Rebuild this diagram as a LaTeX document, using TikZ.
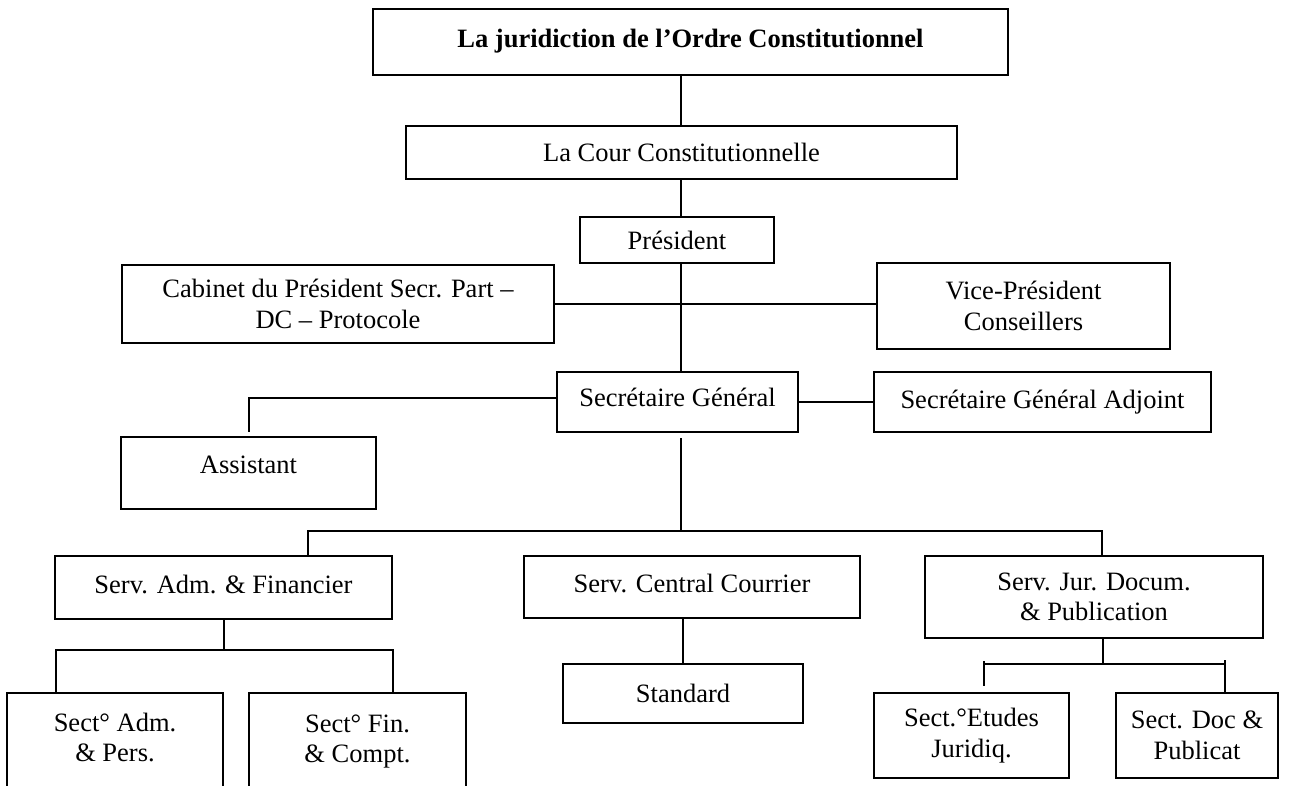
\documentclass[tikz,border=0pt]{standalone}
\usepackage{fontspec}
\setmainfont{Liberation Serif}
\begin{document}
\begin{tikzpicture}[x=1pt,y=-1pt,
  box/.style={draw, line width=2pt, inner sep=0pt, align=center,
              font=\fontsize{26.5}{30.5}\selectfont},
  conn/.style={line width=2pt}]
\useasboundingbox (0,0) rectangle (1303,785);
\clip (0,0) rectangle (1303,785);

% boxes
\node[box, minimum width=635pt, minimum height=66pt, text depth=8pt] (top) at (690.5,42) {\textbf{La juridiction de l’Ordre Constitutionnel}};
\node[box, minimum width=551pt, minimum height=53pt] (cour) at (681.5,152.5) {La Cour Constitutionnelle};
\node[box, minimum width=194pt, minimum height=46pt] (pres) at (677,240) {Président};
\node[box, minimum width=432pt, minimum height=78pt] (cab) at (338,304) {Cabinet du Président Secr. Part –\\DC – Protocole};
\node[box, minimum width=293pt, minimum height=86pt] (vp) at (1023.5,306) {Vice-Président\\Conseillers};
\node[box, minimum width=241pt, minimum height=60pt, text depth=10pt] (sg) at (677.5,402) {Secrétaire Général};
\node[box, minimum width=337pt, minimum height=60pt] (sga) at (1042.5,402) {Secrétaire Général Adjoint};
\node[box, minimum width=255pt, minimum height=72pt, text depth=16pt] (asst) at (248.5,473) {Assistant};
\node[box, minimum width=337pt, minimum height=63pt, text depth=6pt] (sadm) at (223.5,587.5) {Serv. Adm. \& Financier};
\node[box, minimum width=336pt, minimum height=62pt, text depth=8pt] (scc) at (692,587) {Serv. Central Courrier};
\node[box, minimum width=338pt, minimum height=82pt] (sjur) at (1094,597) {Serv. Jur. Docum.\\\& Publication};
\node[box, minimum width=240pt, minimum height=59pt] (std) at (683,693.5) {Standard};
\node[box, minimum width=216pt, minimum height=97pt, text depth=8pt] (secadm) at (115,741.5) {Sect° Adm.\\\& Pers.};
\node[box, minimum width=217pt, minimum height=97pt] (secfin) at (357.5,741.5) {Sect° Fin.\\\& Compt.};
\node[box, minimum width=195pt, minimum height=85pt] (secetu) at (971.5,735.5) {Sect.°Etudes\\Juridiq.};
\node[box, minimum width=162pt, minimum height=85pt] (secdoc) at (1197,735.5) {Sect. Doc \&\\Publicat};

% helper coordinates
\coordinate (spine) at (681,0);
\coordinate (busL) at (308,531);
\coordinate (busM) at (681,531);
\coordinate (busR) at (1102,531);
\coordinate (bus2L) at (56,650);
\coordinate (bus2R) at (393,650);
\coordinate (jL) at (984,664);
\coordinate (jM) at (1103,664);
\coordinate (jR) at (1225,664);

% connectors
\draw[conn] (spine |- top.south) -- (spine |- cour.north);
\draw[conn] (spine |- cour.south) -- (spine |- pres.north);
\draw[conn] (spine |- pres.south) -- (spine |- sg.north);
\draw[conn] (cab.east) -- (cab.east -| vp.west);
\draw[conn] (sg.east) -- (sg.east -| sga.west);
\draw[conn] ([yshift=4pt]sg.west) -| ([yshift=4pt]asst.north);
\draw[conn] ([yshift=-5pt]spine |- sg.south) -- (busM);
\draw[conn] (busL |- sadm.north) |- (busR) -- (busR |- sjur.north);
\draw[conn] (sadm.south) -- (sadm.south |- bus2L);
\draw[conn] (bus2L |- secadm.north) |- (bus2R) -- (bus2R |- secfin.north);
\draw[conn] (std.north |- scc.south) -- (std.north);
\draw[conn] (jM |- sjur.south) -- (jM);
\draw[conn] (jL) -- (jR);
\draw[conn] ([yshift=3pt]jL) -- ([yshift=-22pt]jL);
\draw[conn] ([yshift=4pt]jR) -- (jR |- secdoc.north);
\end{tikzpicture}
\end{document}
